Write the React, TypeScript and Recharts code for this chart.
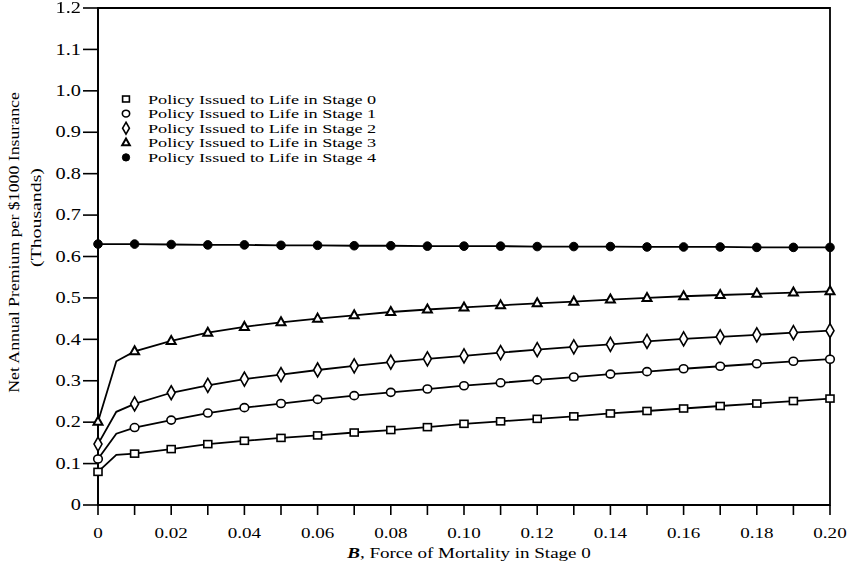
import React from 'react';
import { LineChart, Line, XAxis, YAxis, Legend, ReferenceArea } from 'recharts';

const forceOfMortality = [
  0, 0.005, 0.01, 0.02, 0.03, 0.04, 0.05, 0.06, 0.07, 0.08, 0.09, 0.1,
  0.11, 0.12, 0.13, 0.14, 0.15, 0.16, 0.17, 0.18, 0.19, 0.2,
];
const hasMarker = [
  true, false, true, true, true, true, true, true, true, true, true, true,
  true, true, true, true, true, true, true, true, true, true,
];
const stage0 = [
  0.08, 0.121, 0.124, 0.135, 0.147, 0.155, 0.162, 0.168, 0.175, 0.181, 0.188, 0.196,
  0.202, 0.208, 0.214, 0.221, 0.227, 0.233, 0.239, 0.245, 0.251, 0.257,
];
const stage1 = [
  0.111, 0.172, 0.187, 0.205, 0.222, 0.235, 0.245, 0.255, 0.264, 0.272, 0.28, 0.288,
  0.295, 0.302, 0.309, 0.316, 0.322, 0.329, 0.335, 0.341, 0.347, 0.352,
];
const stage2 = [
  0.147, 0.225, 0.244, 0.271, 0.289, 0.304, 0.315, 0.326, 0.336, 0.345, 0.353, 0.36,
  0.368, 0.375, 0.382, 0.388, 0.395, 0.401, 0.406, 0.411, 0.416, 0.421,
];
const stage3 = [
  0.201, 0.347, 0.371, 0.396, 0.416, 0.43, 0.441, 0.45, 0.458, 0.466, 0.472, 0.477,
  0.482, 0.487, 0.491, 0.496, 0.5, 0.504, 0.507, 0.51, 0.513, 0.516,
];
const stage4 = [
  0.63, 0.63, 0.63, 0.629, 0.628, 0.628, 0.627, 0.627, 0.626, 0.626, 0.625, 0.625,
  0.625, 0.624, 0.624, 0.624, 0.623, 0.623, 0.623, 0.622, 0.622, 0.622,
];
const seriesNames = [
  'Policy Issued to Life in Stage 0',
  'Policy Issued to Life in Stage 1',
  'Policy Issued to Life in Stage 2',
  'Policy Issued to Life in Stage 3',
  'Policy Issued to Life in Stage 4',
];
const seriesKeys = ['s0', 's1', 's2', 's3', 's4'];
const markerKinds = ['square', 'circle', 'diamond', 'triangle', 'filled'];

const xTicks = [
  0, 0.01, 0.02, 0.03, 0.04, 0.05, 0.06, 0.07, 0.08, 0.09, 0.1,
  0.11, 0.12, 0.13, 0.14, 0.15, 0.16, 0.17, 0.18, 0.19, 0.2,
];
const xTickLabels = [
  '0', '', '0.02', '', '0.04', '', '0.06', '', '0.08', '', '0.10',
  '', '0.12', '', '0.14', '', '0.16', '', '0.18', '', '0.20',
];
const yTicks = [0, 0.1, 0.2, 0.3, 0.4, 0.5, 0.6, 0.7, 0.8, 0.9, 1.0, 1.1, 1.2];
const yTickLabels = ['0', '0.1', '0.2', '0.3', '0.4', '0.5', '0.6', '0.7', '0.8', '0.9', '1.0', '1.1', '1.2'];

const data = forceOfMortality.map((x, i) => ({
  x,
  marked: hasMarker[i],
  s0: stage0[i],
  s1: stage1[i],
  s2: stage2[i],
  s3: stage3[i],
  s4: stage4[i],
}));

const FONT = '"Liberation Serif", "DejaVu Serif", serif';
const STRETCH = 1.27;

function Marker({ kind, cx, cy, scale = 1 }: { kind: string; cx: number; cy: number; scale?: number }) {
  const s = scale;
  switch (kind) {
    case 'square':
      return <rect x={cx - 4 * s} y={cy - 3.5 * s} width={8 * s} height={7 * s} fill="#fff" stroke="#000" strokeWidth={1.6} />;
    case 'circle':
      return <ellipse cx={cx} cy={cy} rx={4.3 * s} ry={4 * s} fill="#fff" stroke="#000" strokeWidth={1.6} />;
    case 'diamond':
      return (
        <polygon
          points={`${cx},${cy - 7 * s} ${cx + 4 * s},${cy} ${cx},${cy + 7 * s} ${cx - 4 * s},${cy}`}
          fill="#fff"
          stroke="#000"
          strokeWidth={1.6}
        />
      );
    case 'triangle':
      return (
        <polygon
          points={`${cx},${cy - 5 * s} ${cx + 4.5 * s},${cy + 3 * s} ${cx - 4.5 * s},${cy + 3 * s}`}
          fill="#fff"
          stroke="#000"
          strokeWidth={2}
        />
      );
    default:
      return <circle cx={cx} cy={cy} r={4.3 * s} fill="#000" stroke="#000" strokeWidth={1} />;
  }
}

const makeDot = (kind: string) => (props: any) => {
  const { cx, cy, index, payload } = props;
  const key = `${kind}-${index}`;
  if (cx == null || cy == null || !payload || !payload.marked) return <g key={key} />;
  return (
    <g key={key}>
      <Marker kind={kind} cx={cx} cy={cy} />
    </g>
  );
};

const XTick = (props: any) => {
  const { x, y, index } = props;
  const label = xTickLabels[index] ?? '';
  if (!label) return <g />;
  return (
    <g transform={`translate(${x},${y}) scale(${STRETCH},1)`}>
      <text x={0} y={0} textAnchor="middle" dominantBaseline="hanging" fontFamily={FONT} fontSize={15} fill="#000">
        {label}
      </text>
    </g>
  );
};

const YTick = (props: any) => {
  const { x, y, index } = props;
  return (
    <g transform={`translate(${x},${y}) scale(${STRETCH},1)`}>
      <text x={0} y={0} textAnchor="end" dominantBaseline="central" fontFamily={FONT} fontSize={16} fill="#000">
        {yTickLabels[index]}
      </text>
    </g>
  );
};

const YLabel = (props: any) => {
  const { viewBox } = props;
  const cy = viewBox.y + viewBox.height / 2;
  return (
    <g fontFamily={FONT} fill="#000">
      <g transform={`translate(14, ${cy - 14}) rotate(-90) scale(${STRETCH},1)`}>
        <text x={0} y={0} textAnchor="middle" dominantBaseline="central" fontSize={14}>
          Net Annual Premium per $1000 Insurance
        </text>
      </g>
      <g transform={`translate(36, ${cy - 39}) rotate(-90) scale(1.32,1)`}>
        <text x={0} y={0} textAnchor="middle" dominantBaseline="central" fontSize={15}>
          (Thousands)
        </text>
      </g>
    </g>
  );
};

const XLabel = (props: any) => {
  const { viewBox } = props;
  const cx = viewBox.x + viewBox.width / 2;
  return (
    <g transform={`translate(${cx + 5}, 553) scale(${STRETCH},1)`}>
      <text x={0} y={0} textAnchor="middle" dominantBaseline="central" fontFamily={FONT} fontSize={15} fill="#000">
        <tspan fontStyle="italic" fontWeight="bold">B</tspan>, Force of Mortality in Stage 0
      </text>
    </g>
  );
};

const LegendContent = () => (
  <svg width={290} height={84} style={{ overflow: 'visible', display: 'block' }}>
    {seriesNames.map((name, i) => {
      const cy = 11 + i * 14.6;
      return (
        <g key={name}>
          <Marker kind={markerKinds[i]} cx={16} cy={cy} scale={0.85} />
          <g transform={`translate(38, ${cy}) scale(1.4,1)`}>
            <text x={0} y={0} dominantBaseline="central" fontFamily={FONT} fontSize={13} fill="#000">
              {name}
            </text>
          </g>
        </g>
      );
    })}
  </svg>
);

export default function App() {
  return (
    <div style={{ position: 'fixed', left: 0, top: 0, width: 851, height: 572, background: '#fff' }}>
      <style>{'.recharts-surface{overflow:visible}'}</style>
      <LineChart
        width={851}
        height={572}
        data={data}
        margin={{ top: 8, right: 21, bottom: 17, left: 0 }}
      >
        <ReferenceArea x1={0} x2={0.2} y1={0} y2={1.2} fill="none" stroke="#000" strokeWidth={1.8} ifOverflow="visible" />
        <XAxis
          dataKey="x"
          type="number"
          domain={[0, 0.2]}
          ticks={xTicks}
          interval={0}
          height={50}
          axisLine={{ stroke: '#000', strokeWidth: 1.8 }}
          tickLine={{ stroke: '#000', strokeWidth: 1.6 }}
          tickSize={10}
          tickMargin={13}
          tick={<XTick />}
          label={<XLabel />}
        />
        <YAxis
          type="number"
          domain={[0, 1.2]}
          ticks={yTicks}
          interval={0}
          width={98}
          axisLine={{ stroke: '#000', strokeWidth: 1.8 }}
          tickLine={{ stroke: '#000', strokeWidth: 1.6 }}
          tickSize={15}
          tickMargin={2}
          tick={<YTick />}
          label={<YLabel />}
        />
        <Legend
          layout="horizontal"
          verticalAlign="middle"
          align="center"
          content={<LegendContent />}
          wrapperStyle={{ position: 'absolute', left: 110, top: 88, width: 290, height: 84 }}
        />
        {seriesKeys.map((k, i) => (
          <Line
            key={k}
            type="linear"
            dataKey={k}
            name={seriesNames[i]}
            stroke="#000"
            strokeWidth={1.8}
            dot={makeDot(markerKinds[i])}
            activeDot={false}
            isAnimationActive={false}
          />
        ))}
      </LineChart>
    </div>
  );
}
